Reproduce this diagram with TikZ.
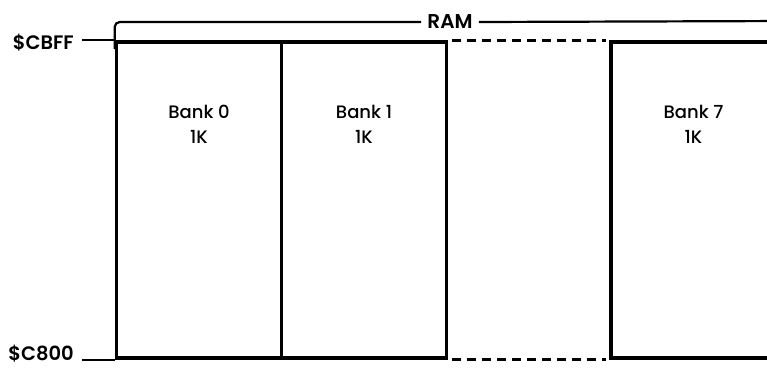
\documentclass[tikz,border=0pt]{standalone}
\usepackage{fontspec}
\setmainfont{Poppins}
\newfontfamily\medfont{Poppins Medium}
\newfontfamily\semifont{Poppins SemiBold}
\usetikzlibrary{positioning}

\begin{document}
\begin{tikzpicture}[
    x=1pt, y=-1pt,
    bank/.style={
        rectangle,
        draw=black,
        line width=3.6pt,
        minimum width=165pt,
        minimum height=316pt,
        inner sep=0pt
    },
    banktext/.style={
        align=center,
        font=\medfont\fontsize{18}{25}\selectfont
    },
    addr/.style={
        anchor=east,
        inner sep=0pt,
        font=\semifont\fontsize{19.5}{20}\selectfont
    },
    lead/.style={
        line width=2.2pt,
        draw=black
    },
    gap/.style={
        line width=2.8pt,
        dash pattern=on 9pt off 6pt
    },
    brace/.style={
        line width=2.2pt,
        rounded corners=5pt
    }
]
    \clip (0,0) rectangle (767,368);

    % Banks
    \node (bank0) [bank] at (199,200) {};
    \node (bank1) [bank] at (364,200) {};
    \node (bank7) [bank] at (693.5,200) {};

    \node (text0) [banktext] at (bank0.center |- 0,124) {Bank 0\\1K};
    \node (text1) [banktext] at (bank1.center |- 0,124) {Bank 1\\1K};
    \node (text7) [banktext] at (bank7.center |- 0,124) {Bank 7\\1K};

    % Address labels
    \node (cbff) [addr] at (74,43) {\$CBFF};
    \node (c800) [addr] at (74,354) {\$C800};

    \draw [lead] ([xshift=8pt]cbff.east |- bank0.north) -- (bank0.north west);
    \draw [lead] ([xshift=8pt]c800.east |- bank0.south) -- (bank0.south west);

    % Missing banks
    \draw [gap] ([xshift=4pt]bank1.north east) -- ([xshift=-3pt]bank7.north west);
    \draw [gap] ([xshift=4pt]bank1.south east) -- ([xshift=-3pt]bank7.south west);

    % RAM bracket
    \node (ram) [font=\semifont\fontsize{20}{22}\selectfont, inner sep=6pt] at (450,22) {RAM};
    \coordinate (ramend) at (790,21);
    \draw [brace] ([yshift=-9pt]bank0.north west) |- (ram.west);
    \draw [brace] (ram.east) -- (ramend);

\end{tikzpicture}
\end{document}
